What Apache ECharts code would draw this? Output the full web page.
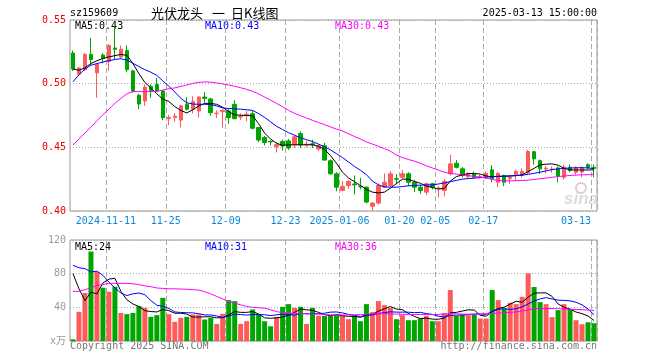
<!DOCTYPE html>
<html><head><meta charset="utf-8">
<script src="https://cdn.jsdelivr.net/npm/echarts@6.0.0/dist/echarts.min.js"></script>
<style>html,body{margin:0;padding:0;background:#fff}#c{width:660px;height:360px}</style>
</head><body><div id="c"></div>
<script>
const dates = ['2024-11-01','2024-11-04','2024-11-05','2024-11-06','2024-11-07','2024-11-08','2024-11-11','2024-11-12','2024-11-13','2024-11-14',
'2024-11-15','2024-11-18','2024-11-19','2024-11-20','2024-11-21','2024-11-22','2024-11-25','2024-11-26','2024-11-27','2024-11-28',
'2024-11-29','2024-12-02','2024-12-03','2024-12-04','2024-12-05','2024-12-06','2024-12-09','2024-12-10','2024-12-11','2024-12-12',
'2024-12-13','2024-12-16','2024-12-17','2024-12-18','2024-12-19','2024-12-20','2024-12-23','2024-12-24','2024-12-25','2024-12-26',
'2024-12-27','2024-12-30','2024-12-31','2025-01-02','2025-01-03','2025-01-06','2025-01-07','2025-01-08','2025-01-09','2025-01-10',
'2025-01-13','2025-01-14','2025-01-15','2025-01-16','2025-01-17','2025-01-20','2025-01-21','2025-01-22','2025-01-23','2025-01-24',
'2025-01-27','2025-02-05','2025-02-06','2025-02-07','2025-02-10','2025-02-11','2025-02-12','2025-02-13','2025-02-14','2025-02-17',
'2025-02-18','2025-02-19','2025-02-20','2025-02-21','2025-02-24','2025-02-25','2025-02-26','2025-02-27','2025-02-28','2025-03-03',
'2025-03-04','2025-03-05','2025-03-06','2025-03-07','2025-03-10','2025-03-11','2025-03-12','2025-03-13'];

const openP = [0.524,0.5075,0.511,0.523,0.5085,0.5225,0.5175,0.528,0.521,0.526,
0.510,0.491,0.4864,0.498,0.4994,0.4943,0.4725,0.4735,0.4714,0.4838,
0.480,0.4785,0.4895,0.488,0.4765,0.478,0.4785,0.4838,0.4738,0.4755,
0.4764,0.4655,0.4577,0.4547,0.4505,0.4546,0.455,0.452,0.4608,0.452,
0.4528,0.4487,0.4512,0.4395,0.4292,0.4162,0.420,0.4212,0.4195,0.4187,
0.4037,0.4062,0.4187,0.420,0.4255,0.4265,0.4292,0.4226,0.4187,0.4148,
0.4214,0.4178,0.4161,0.4292,0.4375,0.4331,0.427,0.4292,0.4265,0.4265,
0.4323,0.4226,0.4279,0.4255,0.4284,0.4279,0.430,0.4466,0.4395,0.433,
0.4325,0.4338,0.4265,0.4343,0.4304,0.4306,0.4364,0.4343];
const closeP = [0.5115,0.5123,0.523,0.519,0.515,0.520,0.530,0.527,0.527,0.511,
0.494,0.484,0.4973,0.4947,0.4943,0.4733,0.4735,0.4745,0.4826,0.480,
0.486,0.4895,0.4885,0.4772,0.4768,0.479,0.4733,0.4725,0.4745,0.476,
0.465,0.4557,0.4538,0.4543,0.452,0.4512,0.4495,0.4583,0.452,0.4525,
0.452,0.4512,0.440,0.4292,0.4187,0.4193,0.4232,0.4205,0.419,0.407,
0.4062,0.420,0.4226,0.4292,0.425,0.4292,0.4226,0.4187,0.4161,0.4214,
0.4187,0.418,0.4232,0.437,0.4343,0.4279,0.4292,0.4265,0.427,0.4296,
0.4253,0.4296,0.4226,0.4265,0.431,0.431,0.4468,0.4409,0.4331,0.4336,
0.433,0.4275,0.4345,0.4317,0.4343,0.434,0.4343,0.4335];
const lowP = [0.510,0.506,0.510,0.515,0.489,0.516,0.510,0.519,0.520,0.509,
0.493,0.480,0.4825,0.489,0.4935,0.4713,0.4675,0.470,0.4655,0.479,
0.4765,0.4733,0.485,0.475,0.473,0.4655,0.4685,0.472,0.4715,0.4705,
0.464,0.454,0.4515,0.4515,0.446,0.4475,0.448,0.4495,0.4495,0.450,
0.4495,0.447,0.4395,0.4285,0.4155,0.4155,0.4175,0.413,0.417,0.406,
0.4005,0.405,0.418,0.419,0.4215,0.425,0.4195,0.415,0.4135,0.4125,
0.417,0.4105,0.4115,0.428,0.4335,0.4265,0.425,0.4255,0.4255,0.425,
0.4225,0.4187,0.4195,0.421,0.4235,0.4265,0.429,0.4365,0.4292,0.4296,
0.430,0.4226,0.4245,0.4305,0.4285,0.4265,0.433,0.4265];
const highP = [0.526,0.513,0.524,0.536,0.516,0.524,0.531,0.546,0.530,0.530,
0.511,0.492,0.4994,0.4994,0.5045,0.495,0.4755,0.477,0.4835,0.4895,
0.490,0.490,0.4934,0.489,0.479,0.480,0.4805,0.487,0.4765,0.4785,
0.479,0.466,0.459,0.4555,0.4538,0.456,0.4565,0.4595,0.4625,0.455,
0.456,0.4525,0.4535,0.4405,0.4305,0.4235,0.424,0.4278,0.426,0.4195,
0.407,0.4215,0.4296,0.4315,0.429,0.4323,0.4305,0.4245,0.4205,0.4222,
0.4222,0.4195,0.425,0.4442,0.440,0.4345,0.4305,0.431,0.4285,0.431,
0.436,0.4305,0.4285,0.428,0.4325,0.4335,0.448,0.447,0.4405,0.4355,
0.435,0.435,0.4365,0.4365,0.435,0.435,0.4375,0.4365];

const ma5 = [0.5115,0.5105,0.5125,0.5158,0.5180,0.5198,0.5210,0.5220,0.5230,0.5222,
0.5158,0.5080,0.5010,0.4965,0.4920,0.4880,0.4860,0.4820,0.4790,0.4770,
0.4795,0.4825,0.4845,0.4845,0.4838,0.4815,0.4780,0.4755,0.4752,0.4750,
0.4748,0.4685,0.4612,0.4565,0.4532,0.4515,0.4520,0.4520,0.4520,0.4520,
0.4520,0.4508,0.4485,0.4435,0.4375,0.4305,0.4260,0.4230,0.4200,0.4170,
0.4148,0.4142,0.4148,0.4180,0.4215,0.4250,0.4250,0.4232,0.4218,0.4195,
0.4185,0.4172,0.4178,0.4235,0.4270,0.4283,0.4294,0.4295,0.4290,0.4275,
0.4268,0.4272,0.4272,0.4275,0.4278,0.4283,0.4310,0.4335,0.4362,0.4368,
0.4370,0.4360,0.4335,0.4323,0.4322,0.4322,0.4322,0.4323];
const ma10 = [0.5015,0.5070,0.5115,0.5145,0.5158,0.5170,0.5180,0.5190,0.5196,0.5185,
0.5160,0.5135,0.5110,0.5090,0.5065,0.5022,0.4980,0.4935,0.4885,0.4850,
0.4840,0.4838,0.4838,0.4836,0.4825,0.4810,0.4805,0.4802,0.4800,0.4795,
0.4790,0.4765,0.4735,0.4700,0.4665,0.4640,0.4615,0.4595,0.4575,0.4560,
0.4545,0.4525,0.4505,0.4480,0.4450,0.4420,0.4385,0.4350,0.4320,0.4285,
0.4235,0.4205,0.4190,0.4187,0.4187,0.4192,0.4198,0.4200,0.4203,0.4205,
0.4205,0.4212,0.4220,0.4230,0.4240,0.4250,0.4255,0.4258,0.4262,0.4266,
0.4270,0.4272,0.4274,0.4276,0.4278,0.4282,0.4288,0.4296,0.4305,0.4315,
0.4325,0.4330,0.4335,0.4338,0.4339,0.4340,0.4338,0.4333];
const ma30 = [0.4518,0.4566,0.4613,0.4660,0.4708,0.4755,0.4800,0.4845,0.4885,0.4920,
0.4938,0.4938,0.4938,0.4938,0.4940,0.4950,0.4960,0.4967,0.4978,0.4990,
0.5002,0.5010,0.5014,0.5012,0.5005,0.4998,0.4990,0.4980,0.4968,0.4955,
0.4940,0.4920,0.4895,0.4870,0.4845,0.4818,0.4790,0.4767,0.4748,0.4730,
0.4712,0.4695,0.4678,0.4660,0.4643,0.4628,0.4607,0.4585,0.4565,0.4543,
0.4525,0.4508,0.4490,0.4470,0.4440,0.4420,0.4405,0.4392,0.4375,0.4355,
0.4338,0.4322,0.4305,0.4295,0.4290,0.4284,0.4278,0.4272,0.4266,0.4258,
0.4248,0.4240,0.4237,0.4237,0.4238,0.4240,0.4242,0.4248,0.4254,0.4259,
0.4265,0.4270,0.4275,0.4279,0.4282,0.4284,0.4285,0.4286];

const volume = [2,34.6,57.0,106.3,82.0,63.3,58.5,64.5,33.4,31.9,
33.4,41.4,39.4,28.7,30.7,51.3,31.9,22.7,27.5,28.7,
31.5,31.5,25.5,27.5,20.3,32.3,48.6,47.4,20.3,23.5,
37.5,31.5,23.5,17.5,28.7,40.6,43.8,39.4,40.6,20.3,
39.4,29.9,29.9,29.9,30.7,29.9,25.9,29.9,23.5,43.8,
34.3,47.4,42.6,39.4,25.9,30.7,24.7,24.7,26.7,29.9,
23.5,23.5,33.1,60.5,29.9,31.5,30.7,31.5,26.7,26.7,
60.5,48.6,38.6,45.4,43.8,52.5,80.4,64.1,46.2,43.8,
28.3,36.7,43.8,37.8,24.7,19.9,22.3,21.1];
const vma5 = [80,62,48,58,56,69,73.5,74.5,59,49,
44,41,36,35,34.5,37.5,36,33,33,32,
28.5,28.4,28.8,28.8,27.5,27.8,31,35,34,34,
35,32,27.5,27,27.5,28.5,30.5,34,38,37,
36.5,34,31.5,30,31.5,30,29.3,29.3,28.2,30.5,
31.5,35.5,38.2,41,38,37.2,32.8,29.2,26.7,27.2,
26,25.8,27.3,33.5,34,35.6,37,36.8,30.5,29.5,
35,38.7,40.2,43.8,47.2,46,52,56.8,57.2,57.2,
53,44,40,38,34.4,32.5,29.6,24.4];
const vma10 = [90,87,86,82,83,78,70,63,57,54,
56,57,55,48,42.5,41.3,38.7,34.5,33.9,33.6,
33.4,32.4,31,30.9,29.8,28,29.6,32,31.4,30.8,
31.4,31.4,31.2,30.2,31.1,31.9,31.4,30.6,32.7,32.3,
32.5,32.4,33,34.3,34.5,33.4,31.6,30.6,29,31,
31,32.5,33.8,34.7,34.3,34.3,34.2,33.7,34,32.6,
31.6,29.5,28.5,30.3,30.7,30.8,31.4,32,32,31.8,
35,37.5,38.5,37.5,38.4,40.5,44,47.5,50,51.5,
50,48.5,48.3,47.7,46,43,38,31.2];
const vma30 = [59,59,61,63,66,67,68.5,68.5,68.5,68.5,
68,67,65.5,64.5,63,62.5,62,62,61.7,61.5,
61,60.5,58.5,56,53,50,47,45,43,41,
40,39.5,39,37,35,33.5,33,32.8,32.6,32.5,
32.2,32,31.5,31,31,31,31,31,31.5,31.8,
32.2,32.5,32.5,32.2,32,31.8,31.5,31.5,31.5,31.5,
31.5,31.5,32,32.5,32.3,32,31.8,31.8,32,32.3,
32.8,33.2,33.6,34,34.5,35.5,37,38.2,38.6,38.6,
38.6,38.4,38,37.6,37.4,37.2,36.8,36.4];

const tickDates = ['2024-11-11','2024-11-25','2024-12-09','2024-12-23','2025-01-06','2025-01-20','2025-02-05','2025-02-17','2025-03-13'];
const tickLabels = ['2024-11-11','11-25','12-09','12-23','2025-01-06','01-20','02-05','02-17','03-13'];
const priceTicks = [0.40, 0.45, 0.50, 0.55];
const volTicks = [0, 40, 80, 120];

const UP = '#ff5a5a', DOWN = '#00a600';
const MONO = "'DejaVu Sans Mono', 'Noto Sans CJK SC', monospace";
const CJK = "13px 'Noto Sans CJK SC', sans-serif";
const last = a => a[a.length - 1];

const chart = echarts.init(document.getElementById('c'), null, {renderer: 'canvas'});
const isTick = (i, v) => tickDates.indexOf(v) >= 0;
const gridLeft = 70, gridW = 527;

function txt(text, x, y, color, align, font) {
  return {type: 'text', silent: true, style: {text: text, x: x, y: y, fill: color, align: align || 'left', textAlign: align || 'left', verticalAlign: 'middle', textVerticalAlign: 'middle', font: font || ('10px ' + MONO)}};
}

const option = {
  animation: false,
  backgroundColor: '#ffffff',
  grid: [
    {left: gridLeft, top: 20, width: gridW, height: 191, show: true, borderColor: '#999', borderWidth: 1, backgroundColor: 'rgba(0,0,0,0)'},
    {left: gridLeft, top: 240, width: gridW, height: 101, show: true, borderColor: '#999', borderWidth: 1, backgroundColor: 'rgba(0,0,0,0)'}
  ],
  xAxis: [
    {type: 'category', gridIndex: 0, data: dates, boundaryGap: true,
     axisLine: {show: false}, axisTick: {show: false},
     axisLabel: {show: true, interval: isTick, margin: 5, fontFamily: MONO, fontSize: 10, color: '#0a88dc',
       formatter: function (v) { const i = tickDates.indexOf(v); if (i < 0) return ''; return (i === tickDates.length - 1 ? '{b|' : '{a|') + tickLabels[i] + '}'; },
       rich: {a: {padding: [0, 6, 0, 0], fontFamily: MONO, fontSize: 10, color: '#0a88dc'}, b: {padding: [0, 36, 0, 0], fontFamily: MONO, fontSize: 10, color: '#0a88dc'}}},
     splitLine: {show: true, interval: isTick, lineStyle: {color: '#aaa', width: 1, type: [5, 3]}}},
    {type: 'category', gridIndex: 1, data: dates, boundaryGap: true,
     axisLine: {show: false}, axisTick: {show: false}, axisLabel: {show: false},
     splitLine: {show: true, interval: isTick, lineStyle: {color: '#aaa', width: 1, type: [5, 3]}}}
  ],
  yAxis: [
    {type: 'value', gridIndex: 0, min: priceTicks[0], max: last(priceTicks), interval: 0.05, scale: true,
     axisLine: {show: false}, axisTick: {show: false},
     axisLabel: {margin: 4, fontFamily: MONO, fontSize: 10, color: '#ee0000', formatter: v => v.toFixed(2)},
     splitLine: {show: true, lineStyle: {color: '#aaa', width: 1, type: [1, 2]}}},
    {type: 'value', gridIndex: 1, min: volTicks[0], max: last(volTicks), interval: 40,
     axisLine: {show: false}, axisTick: {show: false},
     axisLabel: {margin: 4, fontFamily: MONO, fontSize: 10, color: '#999', formatter: v => v === 0 ? 'x万' : String(v)},
     splitLine: {show: true, lineStyle: {color: '#aaa', width: 1, type: [1, 2]}}}
  ],
  series: [
    {type: 'candlestick', xAxisIndex: 0, yAxisIndex: 0, barWidth: 4, silent: true,
     data: dates.map((d, i) => [openP[i], closeP[i], lowP[i], highP[i]]),
     itemStyle: {color: UP, color0: DOWN, borderColor: UP, borderColor0: DOWN, borderWidth: 1}},
    {type: 'line', xAxisIndex: 0, yAxisIndex: 0, data: ma5, symbol: 'none', silent: true, lineStyle: {width: 1, color: '#000'}, color: '#000'},
    {type: 'line', xAxisIndex: 0, yAxisIndex: 0, data: ma10, symbol: 'none', silent: true, lineStyle: {width: 1, color: '#0000ff'}, color: '#0000ff'},
    {type: 'line', xAxisIndex: 0, yAxisIndex: 0, data: ma30, symbol: 'none', silent: true, lineStyle: {width: 1, color: '#ff00ff'}, color: '#ff00ff'},
    {type: 'bar', xAxisIndex: 1, yAxisIndex: 1, barWidth: 5, silent: true, data: volume,
     itemStyle: {color: p => closeP[p.dataIndex] >= openP[p.dataIndex] ? UP : DOWN}},
    {type: 'line', xAxisIndex: 1, yAxisIndex: 1, data: vma5, symbol: 'none', silent: true, lineStyle: {width: 1, color: '#000'}, color: '#000'},
    {type: 'line', xAxisIndex: 1, yAxisIndex: 1, data: vma10, symbol: 'none', silent: true, lineStyle: {width: 1, color: '#0000ff'}, color: '#0000ff'},
    {type: 'line', xAxisIndex: 1, yAxisIndex: 1, data: vma30, symbol: 'none', silent: true, lineStyle: {width: 1, color: '#ff00ff'}, color: '#ff00ff'}
  ],
  graphic: [
    {type: 'group', silent: true, z: 0, children: [
      {type: 'circle', shape: {cx: 581, cy: 188, r: 5}, style: {fill: 'none', stroke: '#e8c9c9', lineWidth: 2}},
      {type: 'text', style: {text: 'sina', x: 564, y: 199, fill: '#dcdcdc', font: 'italic bold 17px "Liberation Sans", Arial, sans-serif', verticalAlign: 'middle', textVerticalAlign: 'middle'}}
    ]},
    txt('sz159609', 70, 13, '#000'),
    txt('光伏龙头', 151, 13, '#000', 'left', CJK),
    txt('一', 212, 13, '#000', 'left', CJK),
    txt('日K线图', 231, 13, '#000', 'left', CJK),
    txt('2025-03-13 15:00:00', 597, 13, '#000', 'right'),
    txt('MA5:' + last(ma5).toFixed(2), 75, 26, '#000'),
    txt('MA10:' + last(ma10).toFixed(2), 205, 26, '#0000ff'),
    txt('MA30:' + last(ma30).toFixed(2), 335, 26, '#ff00ff'),
    txt('MA5:' + Math.round(last(vma5)), 75, 247, '#000'),
    txt('MA10:' + Math.round(last(vma10)), 205, 247, '#0000ff'),
    txt('MA30:' + Math.round(last(vma30)), 335, 247, '#ff00ff'),
    txt('Copyright 2025 SINA.COM', 70, 346, '#777'),
    txt('http://finance.sina.com.cn', 597, 346, '#777', 'right')
  ]
};
chart.setOption(option);
</script>
</body></html>
